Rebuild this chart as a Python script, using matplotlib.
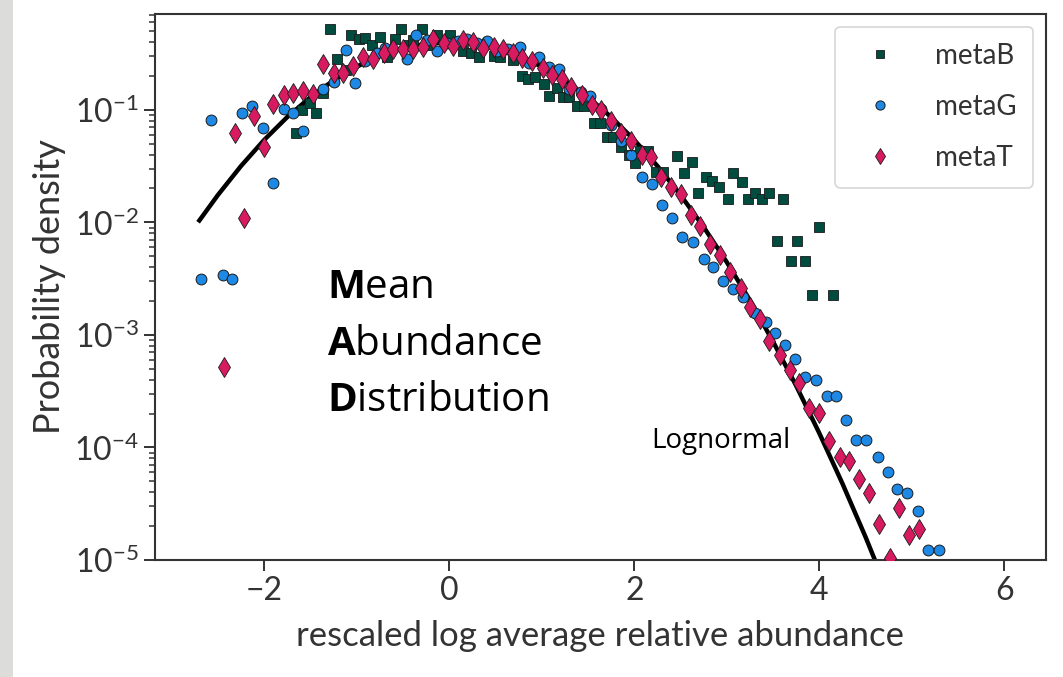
import matplotlib
matplotlib.use("Agg")
import matplotlib.pyplot as plt
from matplotlib.patches import Rectangle
from matplotlib.ticker import LogLocator, NullFormatter

plt.rcParams['font.family'] = ['Lato', 'DejaVu Sans']
plt.rcParams['mathtext.fontset'] = 'custom'
plt.rcParams['mathtext.rm'] = 'Lato'
plt.rcParams['mathtext.bf'] = 'Open Sans:bold'

# metaB (squares)
metaB_x = [-1.66, -1.59, -1.51, -1.44, -1.36, -1.29, -1.21, -1.12, -1.06, -0.98,
           -0.91, -0.83, -0.75, -0.67, -0.59, -0.52, -0.45, -0.39, -0.29, -0.21,
           -0.13, 0.01, 0.15, 0.24, 0.32, 0.48, 0.55, 0.69, 0.79, 0.85,
           0.93, 1.02, 1.08, 1.17, 1.23, 1.30, 1.38, 1.46, 1.56, 1.63,
           1.71, 1.77, 1.86, 1.94, 2.01, 2.06, 2.15, 2.23, 2.31, 2.46,
           2.54, 2.62, 2.69, 2.77, 2.84, 2.92, 3.01, 3.07, 3.16, 3.23,
           3.31, 3.38, 3.46, 3.61, 3.54, 3.76, 3.69, 3.84, 4.00, 3.92, 4.15]
metaB_y = [0.0625, 0.100, 0.115, 0.094, 0.142, 0.525, 0.284, 0.227, 0.464, 0.428,
           0.437, 0.378, 0.446, 0.296, 0.428, 0.525, 0.378, 0.419, 0.525, 0.378,
           0.464, 0.464, 0.334, 0.321, 0.296, 0.302, 0.296, 0.278, 0.201, 0.189,
           0.197, 0.170, 0.133, 0.157, 0.130, 0.130, 0.109, 0.109, 0.0766, 0.0766,
           0.0575, 0.0575, 0.0469, 0.0398, 0.0338, 0.0432, 0.0432, 0.0281, 0.0281, 0.0390,
           0.0275, 0.0345, 0.0183, 0.0254, 0.0234, 0.0207, 0.0162, 0.0275, 0.0229, 0.0162,
           0.0183, 0.0162, 0.0183, 0.0162, 0.00685, 0.00685, 0.00455, 0.00455, 0.00912, 0.00227, 0.00227]

# metaG (circles)
metaG_x = [-2.68, -2.57, -2.45, -2.35, -2.24, -2.13, -2.01, -1.90, -1.79, -1.69,
           -1.58, -1.36, -1.24, -1.12, -1.02, -0.91, -0.78, -0.69, -0.46, -0.36,
           -0.24, -0.13, -0.02, 0.09, 0.19, 0.30, 0.41, 0.52, 0.64, 0.76,
           0.86, 0.97, 1.08, 1.19, 1.30, 1.42, 1.52, 1.64, 1.75, 1.86,
           1.97, 2.08, 2.19, 2.30, 2.41, 2.52, 2.64, 2.75, 2.85, 2.96,
           3.07, 3.18, 3.30, 3.42, 3.52, 3.63, 3.74, 3.85, 3.96, 4.08,
           4.18, 4.29, 4.40, 4.51, 4.63, 4.74, 4.84, 4.95, 5.07, 5.18, 5.29]
metaG_y = [0.00315, 0.0815, 0.00341, 0.00315, 0.094, 0.109, 0.0692, 0.0224, 0.102, 0.094,
           0.0651, 0.154, 0.177, 0.341, 0.174, 0.273, 0.321, 0.356, 0.284, 0.464,
           0.419, 0.334, 0.394, 0.411, 0.428, 0.394, 0.411, 0.334, 0.348, 0.363,
           0.262, 0.296, 0.241, 0.231, 0.154, 0.145, 0.133, 0.102, 0.0736, 0.0530,
           0.0398, 0.0254, 0.0220, 0.0143, 0.0110, 0.00743, 0.00671, 0.00474, 0.00402, 0.00302,
           0.00256, 0.00218, 0.00157, 0.00130, 0.00104, 0.000815, 0.000612, 0.000423, 0.000398, 0.000287,
           0.000287, 0.000176, 0.000117, 0.000117, 8.23e-5, 6.06e-5, 4.28e-5, 3.94e-5, 2.73e-5, 1.23e-5, 1.23e-5]

# metaT (diamonds)
metaT_x = [-2.43, -2.32, -2.22, -2.11, -2.00, -1.90, -1.79, -1.69, -1.58, -1.47,
           -1.36, -1.25, -1.15, -1.04, -0.93, -0.82, -0.71, -0.61, -0.50, -0.39,
           -0.28, -0.17, -0.06, 0.04, 0.15, 0.26, 0.37, 0.48, 0.58, 0.69,
           0.79, 0.90, 1.01, 1.11, 1.22, 1.32, 1.43, 1.54, 1.64, 1.75,
           1.86, 1.97, 2.08, 2.18, 2.29, 2.40, 2.51, 2.61, 2.71, 2.82,
           2.93, 3.04, 3.15, 3.25, 3.36, 3.46, 3.57, 3.68, 3.78, 3.89,
           4.00, 4.11, 4.22, 4.32, 4.43, 4.54, 4.65, 4.76, 4.86, 4.97, 5.08]
metaT_y = [0.00052, 0.0625, 0.0110, 0.0885, 0.0469, 0.113, 0.136, 0.142, 0.148, 0.139,
           0.256, 0.213, 0.213, 0.246, 0.296, 0.284, 0.321, 0.348, 0.348, 0.348,
           0.363, 0.428, 0.394, 0.371, 0.419, 0.402, 0.356, 0.363, 0.348, 0.321,
           0.290, 0.273, 0.236, 0.205, 0.189, 0.160, 0.136, 0.111, 0.100, 0.0798,
           0.0625, 0.0530, 0.0398, 0.0382, 0.0254, 0.0207, 0.0179, 0.0117, 0.00931, 0.00644,
           0.00514, 0.00363, 0.00262, 0.00177, 0.00139, 0.000885, 0.000664, 0.000489, 0.000374, 0.000224,
           0.000203, 0.000114, 8.23e-5, 7.59e-5, 5.25e-5, 3.94e-5, 2.09e-5, 1.04e-5, 2.90e-5, 1.67e-5, 1.89e-5]

# lognormal curve
lognorm_x = [-2.7, -2.5, -2.25, -2.0, -1.75, -1.5, -1.25, -1.0, -0.75, -0.5, -0.25,
             0.0, 0.25, 0.5, 0.75, 1.0, 1.25, 1.5, 1.75, 2.0, 2.25, 2.5, 2.75,
             3.0, 3.25, 3.5, 3.75, 4.0, 4.25, 4.5, 4.7]
lognorm_y = [0.0104, 0.0175, 0.0317, 0.054, 0.0863, 0.1295, 0.1826, 0.242, 0.3011, 0.3521, 0.3867,
             0.3989, 0.3867, 0.3521, 0.3011, 0.242, 0.1826, 0.1295, 0.0863, 0.054, 0.0317, 0.0175, 0.00909,
             0.00443, 0.00203, 0.000873, 0.000353, 0.000134, 4.78e-5, 1.6e-5, 6.3e-6]

fig = plt.figure(figsize=(10.63, 6.77), dpi=100)
fig.patches.append(Rectangle((0, 0), 13 / 1063, 1, transform=fig.transFigure,
                             facecolor='#dcddd8', edgecolor='none', zorder=0))
ax = fig.add_axes([0.1458, 0.1728, 0.8382, 0.8065])

ax.plot(lognorm_x, lognorm_y, color='black', lw=3.2, zorder=1)
ax.plot(metaB_x, metaB_y, 's', ms=7, mfc='#004d40', mec='#1a1a1a', mew=0.6,
        label='metaB', zorder=2)
ax.plot(metaG_x, metaG_y, 'o', ms=7.8, mfc='#1e88e5', mec='#1a1a1a', mew=0.7,
        label='metaG', zorder=3)
ax.plot(metaT_x, metaT_y, 'd', ms=10, mfc='#d81b60', mec='#1a1a1a', mew=0.6,
        label='metaT', zorder=4)

ax.set_yscale('log')
ax.set_xlim(-3.18, 6.45)
ax.set_ylim(1e-5, 0.71)
ax.set_xticks([-2, 0, 2, 4, 6])
ax.yaxis.set_major_locator(LogLocator(base=10, numticks=10))
ax.yaxis.set_minor_locator(LogLocator(base=10, subs=range(2, 10), numticks=50))
ax.yaxis.set_minor_formatter(NullFormatter())

for s in ax.spines.values():
    s.set_color('#333333')
    s.set_linewidth(1.5)
ax.tick_params(which='major', direction='out', length=8, width=1.4,
               colors='#333333', labelsize=23, labelcolor='#333333')
ax.tick_params(which='minor', direction='out', length=4.5, width=1.1, colors='#333333')

ax.set_xlabel('rescaled log average relative abundance', fontsize=25, color='#333333', labelpad=10)
ax.set_ylabel('Probability density', fontsize=26, color='#333333', labelpad=6)

ax.text(2.18, 1.14e-4, 'Lognormal', fontsize=20, family='Open Sans', va='center', ha='left')
ax.text(-1.32, 0.00213, r'$\mathbf{M}$ean', fontsize=29, family='Open Sans', va='baseline')
ax.text(-1.32, 0.000664, r'$\mathbf{A}$bundance', fontsize=29, family='Open Sans', va='baseline')
ax.text(-1.32, 0.000211, r'$\mathbf{D}$istribution', fontsize=29, family='Open Sans', va='baseline')

leg = ax.legend(loc='upper right', fontsize=20, numpoints=1, markerscale=0.85,
                labelspacing=0.9, handletextpad=1.0, borderpad=0.6,
                borderaxespad=0.45, fancybox=True, frameon=True)
leg.get_frame().set_edgecolor('#cccccc')
leg.get_frame().set_linewidth(1.2)
for t in leg.get_texts():
    t.set_color('#333333')

fig.savefig('out.png', dpi=100)
